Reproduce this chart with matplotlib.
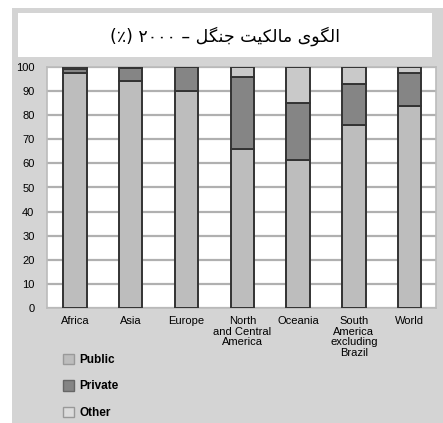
import matplotlib
matplotlib.use('Agg')
import matplotlib.pyplot as plt
from matplotlib.patches import Rectangle, Patch

regions = ['Africa', 'Asia', 'Europe', 'North\nand Central\nAmerica', 'Oceania',
           'South\nAmerica\nexcluding\nBrazil', 'World']
public = [97.5, 94, 90, 66, 61.5, 76, 84]
private = [1.8, 5.5, 10, 30, 23.5, 17, 13.5]
other = [0.7, 0.5, 0, 4, 15, 7, 2.5]
series = ['Public', 'Private', 'Other']

# Persian title, pre-shaped (presentation forms) in visual order
title = ('(\u066a) \u06f2\u06f0\u06f0\u06f0 \u2013 '
         '\ufede\ufb95\ufee8\ufe9f '
         '\ufe96\ufbff\ufb91\ufedf\ufe8e\ufee3 '
         '\ufbfc\ufeee\ufb95\ufedf\ufe8d')

bg = '#d4d4d4'
c_pub, c_priv, c_oth = '#bdbdbd', '#858585', '#c9c9c9'

fig = plt.figure(figsize=(4.43, 4.23), dpi=100)
fig.patch.set_facecolor('white')
W, H = 443, 423
# grey panel and white title box
fig.patches.append(Rectangle((12 / W, 0), 1, 1 - 8 / H, transform=fig.transFigure,
                             facecolor=bg, edgecolor='none', zorder=-10))
fig.patches.append(Rectangle((18 / W, 1 - 57 / H), 414 / W, 44 / H, transform=fig.transFigure,
                             facecolor='white', edgecolor='none', zorder=-9))
fig.text(225 / W, 1 - 36 / H, title, ha='center', va='center', fontsize=12.5,
         family=['DejaVu Sans'])

ax = fig.add_axes([47 / W, 1 - 308 / H, 389 / W, 241 / H])
ax.set_facecolor('white')
x = range(len(regions))
kw = dict(width=0.42, edgecolor='#333333', linewidth=1.4, zorder=3)
ax.bar(x, public, color=c_pub, **kw)
ax.bar(x, private, bottom=public, color=c_priv, **kw)
ax.bar(x, other, bottom=[p + q for p, q in zip(public, private)], color=c_oth, **kw)

ax.set_xlim(-0.5, 6.47)
ax.set_ylim(0, 100)
ax.set_yticks(range(0, 101, 10))
ax.yaxis.grid(True, color='#b0b0b0', linewidth=1.6, zorder=0)
ax.set_axisbelow(True)
for s in ax.spines.values():
    s.set_color('#bbbbbb')
    s.set_linewidth(1.2)
ax.tick_params(length=0, labelsize=8)
ax.tick_params(axis='x', pad=6)
ax.tick_params(axis='y', pad=9)
ax.set_xticks(list(x))
ax.set_xticklabels(regions, linespacing=1.05, va='top')
for t in ax.get_xticklabels() + ax.get_yticklabels():
    t.set_family('Liberation Sans')

handles = [Patch(facecolor=c_pub, edgecolor='#999999'),
           Patch(facecolor=c_priv, edgecolor='#666666'),
           Patch(facecolor='#dcdcdc', edgecolor='#999999')]
leg = fig.legend(handles, series, loc='upper left', bbox_to_anchor=(59 / W, 1 - 350 / H),
                 frameon=False, handlelength=1.0, handleheight=1.0, handletextpad=0.4,
                 labelspacing=1.2, borderaxespad=0, borderpad=0.3,
                 prop={'family': 'Liberation Sans', 'size': 8.5, 'weight': 'bold'})

fig.savefig('out.png', dpi=100, facecolor=fig.get_facecolor())
